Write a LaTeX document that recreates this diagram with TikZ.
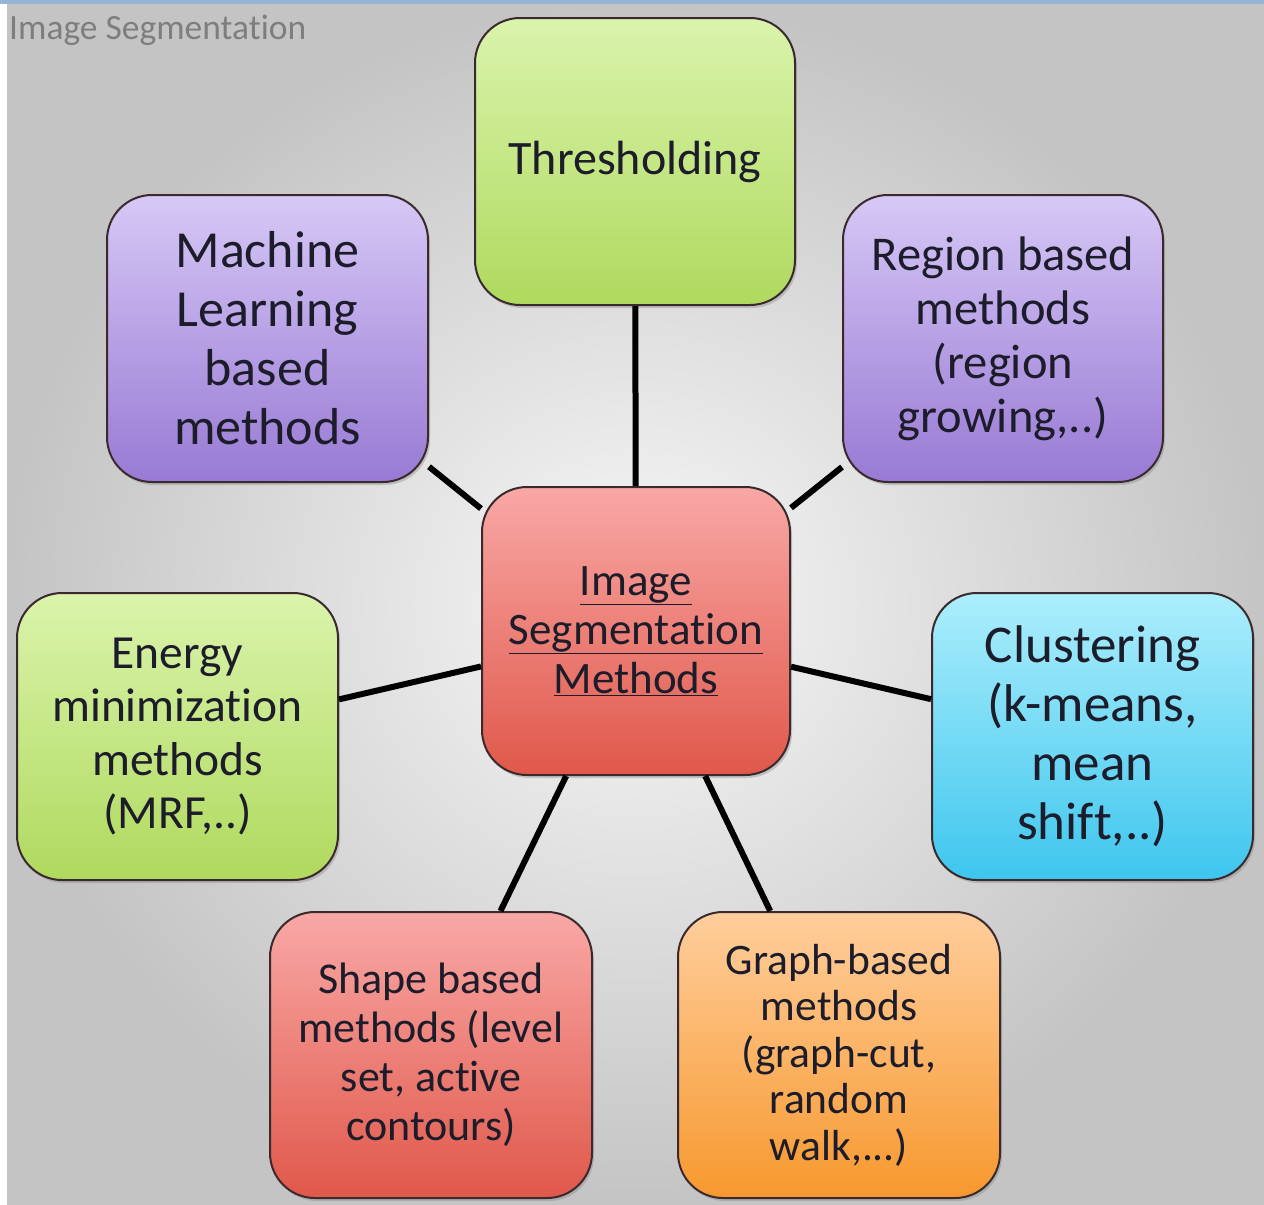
\documentclass[tikz,border=0pt]{standalone}
\usepackage{fontspec}
\setmainfont{Carlito}[Ligatures=NoCommon]
\usetikzlibrary{shadows}
\definecolor{boxline}{HTML}{3A2A2E}
\definecolor{txt}{HTML}{1C1C2A}
\definecolor{grnT}{HTML}{DAF4AC}
\definecolor{grnB}{HTML}{B0D95E}
\definecolor{purT}{HTML}{D6C8F6}
\definecolor{purB}{HTML}{987AD4}
\definecolor{redT}{HTML}{F9A8A6}
\definecolor{redB}{HTML}{E0584A}
\definecolor{cyaT}{HTML}{ACEEFC}
\definecolor{cyaB}{HTML}{3EC6EE}
\definecolor{orgT}{HTML}{FFCE9C}
\definecolor{orgB}{HTML}{F7982E}
\definecolor{bgIn}{HTML}{F8F8F8}
\definecolor{bgOut}{HTML}{C4C4C4}
\definecolor{strip}{HTML}{95B4D6}
\definecolor{ttl}{HTML}{7E7E7E}
\begin{document}
\begin{tikzpicture}[x=1pt,y=-1pt,
  box/.style={draw=boxline, line width=2pt, rounded corners=45pt, align=center,
    text=txt, inner sep=0pt, minimum width=320pt, minimum height=287pt,
    drop shadow={shadow xshift=2pt, shadow yshift=-3pt, opacity=0.35}},
  greenbox/.style={box, top color=grnT, bottom color=grnB},
  purplebox/.style={box, top color=purT, bottom color=purB},
  redbox/.style={box, top color=redT, bottom color=redB},
  cyanbox/.style={box, top color=cyaT, bottom color=cyaB},
  orangebox/.style={box, top color=orgT, bottom color=orgB},
  link/.style={line width=6pt, black}]
\useasboundingbox (0,0) rectangle (1264,1205);
\fill[white] (0,0) rectangle (1264,1205);
\shade[inner color=bgIn, outer color=bgOut] (7,4) rectangle (1264,1205);
\fill[strip] (0,0) rectangle (1264,4);
\node[anchor=west, text=ttl, inner sep=0pt, font=\fontsize{35.5}{42}\selectfont] (title) at (9,30) {Image Segmentation};

\node[greenbox, font=\fontsize{48}{54}\selectfont] (thr) at (635,161.5) {Thresholding};
\node[purplebox, minimum width=321pt, font=\fontsize{52}{59}\selectfont] (ml) at (267.5,338.5) {Machine\\Learning\\based\\methods};
\node[purplebox, font=\fontsize{48.5}{54}\selectfont] (reg) at (1003,338.5) {Region based\\methods\\(region\\growing,..)};
\node[redbox, minimum width=308pt, minimum height=288pt, font=\fontsize{45}{49}\selectfont] (cen) at (636,631) {\underline{Image}\\\underline{Segmentation}\\\underline{Methods}};
\node[greenbox, minimum width=321pt, font=\fontsize{47.5}{53.5}\selectfont] (ene) at (177.5,736.5) {Energy\\minimization\\methods\\(MRF,..)};
\node[cyanbox, minimum width=321pt, font=\fontsize{53}{59}\selectfont] (clu) at (1092.5,736.5) {Clustering\\(k-means,\\mean\\shift,..)};
\node[redbox, minimum width=322pt, minimum height=286pt, font=\fontsize{44}{49}\selectfont] (sha) at (431,1055) {Shape based\\methods (level\\set, active\\contours)};
\node[orangebox, minimum width=322pt, minimum height=286pt, font=\fontsize{43.5}{46.5}\selectfont] (gra) at (839,1055) {Graph-based\\methods\\(graph-cut,\\random\\walk,...)};

\draw[link] (thr) -- (cen);
\draw[link] (ml) -- (cen);
\draw[link] (reg) -- (cen);
\draw[link] (ene) -- (cen);
\draw[link] (clu) -- (cen);
\draw[link] (sha) -- (cen);
\draw[link] (gra) -- (cen);
\end{tikzpicture}
\end{document}
